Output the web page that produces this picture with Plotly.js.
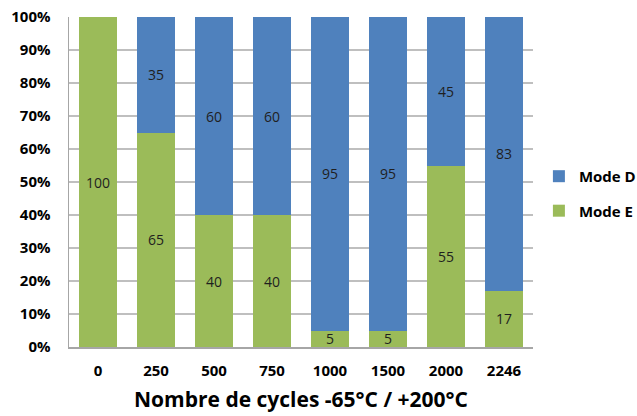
<!DOCTYPE html>
<html>
<head>
<meta charset="utf-8">
<script src="https://cdn.plot.ly/plotly-3.0.1.min.js"></script>
<style>html,body{margin:0;padding:0;background:#fff;}#chart{width:637px;height:416px;}</style>
</head>
<body>
<div id="chart"></div>
<script>
const categories = ["0", "250", "500", "750", "1000", "1500", "2000", "2246"];
const modeE = [100, 65, 40, 40, 5, 5, 55, 17];
const modeD = [0, 35, 60, 60, 95, 95, 45, 83];
const yTickVals = [0, 10, 20, 30, 40, 50, 60, 70, 80, 90, 100];
const yTickText = ["0%", "10%", "20%", "30%", "40%", "50%", "60%", "70%", "80%", "90%", "100%"];

const labelOf = arr => arr.map(v => v === 0 ? "" : String(v));
const F = "Open Sans, Lato, sans-serif";

const traces = [
  {
    type: "bar", name: "Mode E", x: categories, y: modeE,
    marker: {color: "#9BBB59"}, legendgroup: "e", legendrank: 2,
    text: labelOf(modeE), textposition: "inside", insidetextanchor: "middle",
    textangle: 0,
    textfont: {family: F, size: 14, color: "#1f1f1f"}, constraintext: "none",
    hoverinfo: "x+y+name"
  },
  {
    type: "bar", name: "Mode D", x: categories, y: modeD,
    marker: {color: "#4F81BD"}, legendgroup: "d", legendrank: 1,
    text: labelOf(modeD), textposition: "inside", insidetextanchor: "middle",
    textangle: 0,
    textfont: {family: F, size: 14, color: "#1f1f1f"}, constraintext: "none",
    hoverinfo: "x+y+name"
  }
];

const layout = {
  width: 637, height: 416,
  margin: {l: 69, r: 104, t: 17, b: 69, pad: 0, autoexpand: false},
  paper_bgcolor: "#ffffff", plot_bgcolor: "#ffffff",
  barmode: "stack", bargap: 0.36,
  showlegend: true,
  legend: {
    xref: "container", yref: "container",
    x: 0.846, y: 0.535, xanchor: "left", yanchor: "middle",
    traceorder: "grouped", tracegroupgap: 12,
    font: {family: F, size: 15, color: "#000", weight: "bold"},
    bgcolor: "rgba(0,0,0,0)"
  },
  xaxis: {
    type: "category",
    showline: true, linecolor: "#A6A6A6", linewidth: 1.5,
    showgrid: false, ticks: "", ticklabelstandoff: 9,
    tickfont: {family: F, size: 15, color: "#000", weight: "bold"},
    title: {text: "Nombre de cycles -65°C / +200°C", standoff: 14,
            font: {family: F, size: 21, color: "#000", weight: "bold"}}
  },
  yaxis: {
    range: [0, 100], tickvals: yTickVals, ticktext: yTickText,
    showline: true, linecolor: "#A6A6A6", linewidth: 1.5,
    showgrid: true, gridcolor: "#BFBFBF", gridwidth: 1.2,
    zeroline: false, ticks: "", ticklen: 0, ticklabelstandoff: 14,
    tickfont: {family: F, size: 15, color: "#000", weight: "bold"}
  }
};

Plotly.newPlot("chart", traces, layout, {displayModeBar: false, staticPlot: true});
</script>
</body>
</html>
